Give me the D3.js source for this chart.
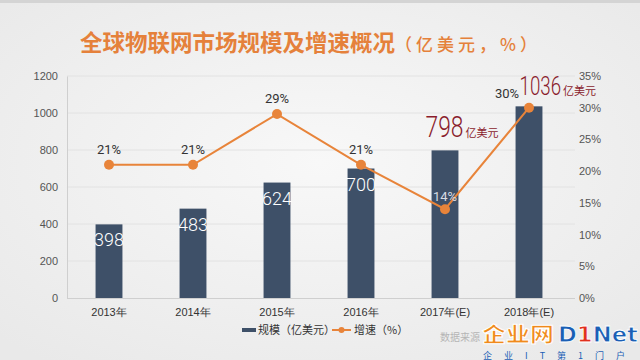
<!DOCTYPE html>
<html><head><meta charset="utf-8">
<script src="https://cdn.jsdelivr.net/npm/d3@7/dist/d3.min.js"></script>
<style>
html,body{margin:0;padding:0;}
svg{display:block;font-family:"Noto Sans CJK SC","Noto Sans",sans-serif;}
</style></head>
<body><svg id="c" width="640" height="360"></svg>
<script>
const years = ["2013年","2014年","2015年","2016年","2017年(E)","2018年(E)"];
const scale = [398,483,624,700,798,1036];
const growth = [21,21,29,21,14,30];
const leftTicks = [0,200,400,600,800,1000,1200];
const rightTicks = [0,5,10,15,20,25,30,35];
const titleMain = "全球物联网市场规模及增速概况";
const titleUnit = "（亿美元，%）";
const legendNames = ["规模（亿美元）","增速（%）"];

const svg = d3.select("#c");
const defs = svg.append("defs");
const rg = defs.append("radialGradient").attr("id","bg").attr("cx","50%").attr("cy","45%").attr("r","70%");
rg.append("stop").attr("offset","0%").attr("stop-color","#f8f8f8");
rg.append("stop").attr("offset","100%").attr("stop-color","#e9e9e9");
svg.append("rect").attr("width",640).attr("height",360).attr("fill","url(#bg)");
svg.append("rect").attr("width",640).attr("height",3).attr("fill","#d4d4d4");

const x = d3.scaleBand().domain(years).range([67,571]).paddingInner(0.68).paddingOuter(0.34);
const yL = d3.scaleLinear().domain([0,1200]).range([298,76]);
const yR = d3.scaleLinear().domain([0,35]).range([298,76]);

// gridlines
svg.append("g").selectAll("line").data(leftTicks.slice(1)).join("line")
  .attr("x1",67).attr("x2",575).attr("y1",d=>yL(d)).attr("y2",d=>yL(d))
  .attr("stroke","#e2e2e2").attr("stroke-width",1);

// left axis
const gl = svg.append("g").attr("transform","translate(67,0)")
  .call(d3.axisLeft(yL).tickValues(leftTicks).tickFormat(d3.format("d")).tickSize(0).tickPadding(9));
gl.select(".domain").attr("stroke","#cfcfcf");
gl.selectAll("text").attr("font-family","'Liberation Sans',sans-serif").attr("font-size",11).attr("fill","#555");

// right axis
const gr = svg.append("g").attr("transform","translate(575,0)")
  .call(d3.axisRight(yR).tickValues(rightTicks).tickFormat(d=>d+"%").tickSize(0).tickPadding(4));
gr.select(".domain").remove();
gr.selectAll("text").attr("font-family","'Liberation Sans',sans-serif").attr("font-size",11).attr("fill","#555");

// bottom axis
const gb = svg.append("g").attr("transform","translate(0,298)")
  .call(d3.axisBottom(x).tickSize(0).tickPadding(10));
gb.select(".domain").attr("stroke","#cfcfcf").attr("d","M67,0.5H575");
gb.selectAll("text").attr("font-size",11).attr("fill","#333");

// bars
svg.append("g").selectAll("rect").data(scale).join("rect")
  .attr("x",(d,i)=>x(years[i])).attr("width",x.bandwidth())
  .attr("y",d=>yL(d)).attr("height",d=>yL(0)-yL(d)).attr("fill","#3e5068");

// bar value labels (first four inside bars)
svg.append("g").selectAll("text").data(scale.slice(0,4)).join("text")
  .attr("x",(d,i)=>x(years[i])+x.bandwidth()/2).attr("y",d=>yL(d)+22)
  .attr("text-anchor","middle").attr("font-family","Roboto,sans-serif").attr("font-weight",300)
  .attr("font-size",18).attr("fill","#ffffff").text(d=>d);

// big labels for 2017, 2018
function bigLabel(i, fs, sx, dx, dy, unitGap){
  const bx = x(years[i])+dx, by = yL(scale[i])+dy;
  const num = svg.append("text").attr("transform",`translate(${bx},${by}) scale(${sx},1)`)
    .attr("fill","#8a1c2c").attr("font-family","Roboto,sans-serif")
    .attr("font-size",fs).attr("font-weight",300).text(scale[i]);
  const w = num.node().getComputedTextLength()*sx;
  svg.append("text").attr("x",bx+w+unitGap).attr("y",by).attr("font-size",11)
    .attr("fill","#8a1c2c").text("亿美元");
}
bigLabel(4, 30, 0.76, -6, -13, 2);
bigLabel(5, 26, 0.72, 4, -11, 2);

// line
const cx = i => x(years[i]) + x.bandwidth()/2;
svg.append("path").datum(growth)
  .attr("d", d3.line().x((d,i)=>cx(i)).y(d=>yR(d)))
  .attr("fill","none").attr("stroke","#e8843a").attr("stroke-width",2);
svg.append("g").selectAll("circle").data(growth).join("circle")
  .attr("cx",(d,i)=>cx(i)).attr("cy",d=>yR(d)).attr("r",5).attr("fill","#e8843a");

// growth labels
svg.append("g").selectAll("text").data(growth).join("text")
  .attr("x",(d,i)=> i===5 ? cx(i)-22 : cx(i))
  .attr("y",(d,i)=> i===4 ? yR(d)-8 : (i===5 ? yR(d)-10 : yR(d)-11))
  .attr("text-anchor","middle").attr("font-family","Roboto,sans-serif")
  .attr("font-size",13).attr("fill",(d,i)=> i===4 ? "#d8dde4" : "#333")
  .text(d=>d+"%");

// title
const title = svg.append("text").attr("x",80).attr("y",51).attr("fill","#e5813b").attr("font-weight",700);
title.append("tspan").attr("font-size",22.5).text(titleMain);
title.append("tspan").attr("font-size",17).attr("font-weight",500).attr("letter-spacing",4).text(titleUnit);

// legend
const lg = svg.append("g").attr("font-size",11).attr("fill","#333");
lg.append("rect").attr("x",242).attr("y",328).attr("width",14).attr("height",4).attr("fill","#3e5068");
lg.append("text").attr("x",258).attr("y",334).text(legendNames[0]);
lg.append("line").attr("x1",332).attr("x2",351).attr("y1",330).attr("y2",330).attr("stroke","#e8843a").attr("stroke-width",2);
lg.append("circle").attr("cx",341.5).attr("cy",330).attr("r",3).attr("fill","#e8843a");
lg.append("text").attr("x",354).attr("y",334).text(legendNames[1]);

// watermark
svg.append("text").attr("x",440).attr("y",341).attr("font-size",10).attr("fill","#b5b5b5").text("数据来源");
svg.append("text").attr("x",482).attr("y",342).attr("font-size",20).attr("font-weight",900)
  .attr("fill","#f08a1c").attr("stroke","#fff").attr("stroke-width",1)
  .attr("textLength",72).attr("lengthAdjust","spacingAndGlyphs").text("企业网");
const dn = svg.append("text").attr("x",558).attr("y",342).attr("font-size",21).attr("font-weight",700)
  .attr("font-family","'DejaVu Sans',sans-serif").attr("fill","#1b5fb5").attr("stroke","#fff").attr("stroke-width",0.8)
  .attr("textLength",80).attr("lengthAdjust","spacingAndGlyphs");
dn.append("tspan").text("D");
dn.append("tspan").attr("fill","#e0301e").text("1");
dn.append("tspan").text("Net");
svg.append("text").attr("x",483).attr("y",358.5).attr("font-size",9).attr("fill","#1b5fb5")
  .attr("letter-spacing",12).text("企业IT第1门户");
</script></body></html>
